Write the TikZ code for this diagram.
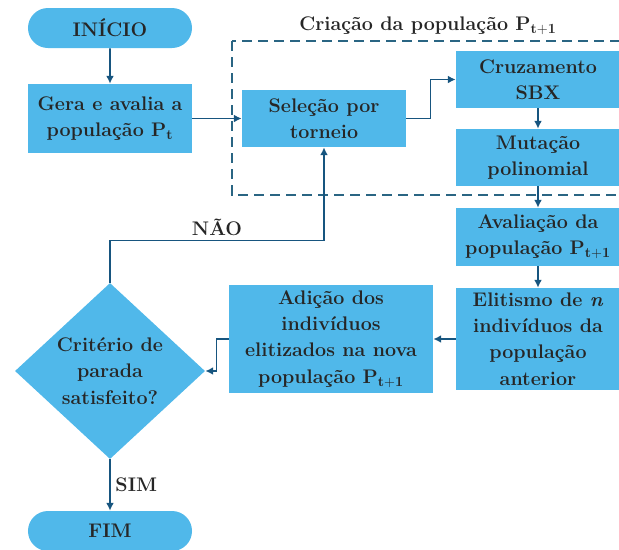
\documentclass[tikz,border=0pt]{standalone}
\usetikzlibrary{shapes.geometric,shapes.misc,arrows.meta}
\definecolor{caixa}{HTML}{50B8EA}
\definecolor{seta}{HTML}{17557F}
\definecolor{tracado}{HTML}{2A6583}
\tikzset{
  bloco/.style={rectangle, fill=caixa, align=center, inner sep=0pt, text=black!85,
    font=\fontsize{14}{18.6}\selectfont\bfseries},
  terminal/.style={bloco, rounded rectangle, minimum width=4.1cm, minimum height=1cm},
  decisao/.style={bloco, diamond, minimum width=4.75cm, minimum height=4.4cm},
  ligacao/.style={draw=seta, line width=1.1pt, -{Latex[length=5.5pt,width=5.5pt]}},
  rotulo/.style={text=black!85, font=\fontsize{14}{16}\selectfont\bfseries}
}
\begin{document}
\begin{tikzpicture}[x=0.025cm, y=-0.025cm]
\useasboundingbox (0,0) rectangle (619,549);
% grupo da criacao da nova populacao
\draw[tracado, line width=1.1pt, dash pattern=on 0.25cm off 0.15cm] (232,41) rectangle (640,195);
\node[rotulo] (titulo) at (428,26) {Criação da população P$_{\mathbf{t+1}}$};
% blocos
\node[terminal] (inicio) at (110,28) {INÍCIO};
\node[bloco, minimum width=4.1cm, minimum height=1.725cm] (gera) at (110,118.5) {Gera e avalia a\\população P$_{\mathbf{t}}$};
\node[bloco, minimum width=4.1cm, minimum height=1.425cm] (selecao) at (324,118.5) {Seleção por\\torneio};
\node[bloco, minimum width=4.1cm, minimum height=1.425cm] (cruz) at (538,79.5) {Cruzamento\\SBX};
\node[bloco, minimum width=4.1cm, minimum height=1.425cm] (mut) at (538,157.5) {Mutação\\polinomial};
\node[bloco, minimum width=4.1cm, minimum height=1.45cm] (aval) at (538,237) {Avaliação da\\população P$_{\mathbf{t+1}}$};
\node[bloco, minimum width=4.1cm, minimum height=2.55cm] (elit) at (538,339) {Elitismo de \textit{n}\\indivíduos da\\população\\anterior};
\node[bloco, minimum width=5.1cm, minimum height=2.7cm] (adic) at (331,339) {Adição dos\\indivíduos\\elitizados na nova\\população P$_{\mathbf{t+1}}$};
\node[decisao] (crit) at (110,371) {Critério de\\parada\\satisfeito?};
\node[terminal] (fim) at (110,531) {FIM};
% ligacoes
\draw[ligacao] (inicio) -- (gera);
\draw[ligacao] (gera) -- (selecao);
\draw[ligacao] (selecao.east) -- ++(24,0) |- (cruz.west);
\draw[ligacao] (cruz) -- (mut);
\draw[ligacao] (mut) -- (aval);
\draw[ligacao] (aval) -- (elit);
\draw[ligacao] (elit) -- (adic);
\draw[ligacao] (adic.west) -- ++(-12,0) |- (crit.east);
\draw[ligacao] (crit.north) -- ++(0,-42) -| node[rotulo, pos=0.25, above] {NÃO} (selecao.south);
\draw[ligacao] (crit.south) -- node[rotulo, right, pos=0.5] {SIM} (fim.north);
\end{tikzpicture}
\end{document}
